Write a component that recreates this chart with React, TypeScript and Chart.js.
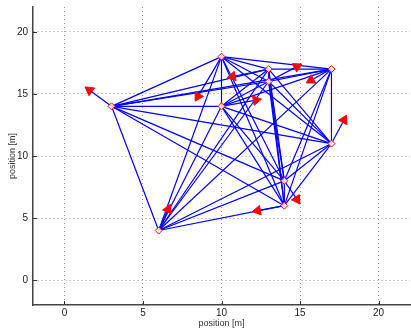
import React, { useEffect, useRef } from "react";
import { Chart, registerables } from "chart.js";

Chart.register(...registerables);

// Node positions [m]
const nodeX = [10, 13, 17, 3, 10, 13, 17, 14, 14, 6];
const nodeY = [18, 17, 17, 14, 14, 16, 11, 8, 6, 4];

// Velocity arrow tips [m]
const tipX = [8.5, 10.7, 15.7, 1.6, 12.2, 14.8, 17.8, 14.8, 12.3, 6.6];
const tipY = [14.8, 16.4, 16.1, 15.3, 14.5, 17.2, 12.9, 6.5, 5.6, 5.7];

// Links between nodes (index pairs)
const edges: [number, number][] = [
  [0, 1], [0, 2], [0, 3], [0, 4], [0, 5], [0, 6], [0, 7], [0, 8], [0, 9],
  [1, 2], [1, 3], [1, 4], [1, 5], [1, 6], [1, 7], [1, 8], [1, 9],
  [2, 3], [2, 4], [2, 5], [2, 6], [2, 7], [2, 8], [2, 9],
  [3, 4], [3, 5], [3, 6], [3, 7], [3, 8], [3, 9],
  [4, 5], [4, 6], [4, 7], [4, 8], [4, 9],
  [5, 6], [5, 7], [5, 8], [5, 9],
  [6, 7], [6, 8], [6, 9],
  [7, 8], [7, 9],
  [8, 9],
];

const xTicks = [0, 5, 10, 15, 20];
const yTicks = [0, 5, 10, 15, 20];
const xRange = [-2, 22];
const yRange = [-2, 22];

const BLUE = "rgb(0,0,255)";
const RED = "rgb(255,0,0)";
const FONT = "'Liberation Sans', Arial, Helvetica, sans-serif";

const innerTicks = {
  id: "innerTicks",
  afterDraw(chart: any) {
    const { ctx, chartArea, scales } = chart;
    ctx.save();
    ctx.strokeStyle = "#333";
    ctx.lineWidth = 1;
    ctx.beginPath();
    xTicks.forEach((v) => {
      const p = Math.round(scales.x.getPixelForValue(v)) + 0.5;
      ctx.moveTo(p, chartArea.bottom);
      ctx.lineTo(p, chartArea.bottom - 4);
    });
    yTicks.forEach((v) => {
      const p = Math.round(scales.y.getPixelForValue(v)) + 0.5;
      ctx.moveTo(chartArea.left, p);
      ctx.lineTo(chartArea.left + 4, p);
    });
    ctx.stroke();
    ctx.restore();
  },
};

export default function App() {
  const ref = useRef<HTMLCanvasElement | null>(null);

  useEffect(() => {
    if (!ref.current) return;

    const edgeSets = edges.map(([a, b]) => ({
      data: [
        { x: nodeX[a], y: nodeY[a] },
        { x: nodeX[b], y: nodeY[b] },
      ],
      showLine: true,
      borderColor: BLUE,
      borderWidth: 1.2,
      pointRadius: 0,
      order: 4,
    }));

    const velSets = nodeX.map((_, i) => ({
      data: [
        { x: nodeX[i], y: nodeY[i] },
        { x: tipX[i], y: tipY[i] },
      ],
      showLine: true,
      borderColor: BLUE,
      borderWidth: 1.2,
      pointRadius: 0,
      order: 3,
    }));

    const heads = {
      data: tipX.map((x, i) => ({ x, y: tipY[i] })),
      showLine: false,
      pointStyle: "triangle",
      pointRadius: 5.5,
      backgroundColor: RED,
      borderColor: RED,
      borderWidth: 1,
      rotation: (c: any) => {
        const i = c.dataIndex;
        const xs = c.chart.scales.x;
        const ys = c.chart.scales.y;
        if (!xs || !ys) return 0;
        const dx = xs.getPixelForValue(tipX[i]) - xs.getPixelForValue(nodeX[i]);
        const dy = ys.getPixelForValue(tipY[i]) - ys.getPixelForValue(nodeY[i]);
        return (Math.atan2(dx, -dy) * 180) / Math.PI;
      },
      order: 2,
    };

    const nodes = {
      data: nodeX.map((x, i) => ({ x, y: nodeY[i] })),
      showLine: false,
      pointStyle: "rectRot",
      pointRadius: 3.5,
      backgroundColor: "rgba(255,255,255,0.85)",
      borderColor: RED,
      borderWidth: 1,
      order: 1,
    };

    const chart = new Chart(ref.current, {
      type: "scatter",
      data: { datasets: [nodes, heads, ...velSets, ...edgeSets] as any },
      options: {
        animation: false,
        responsive: false,
        events: [],
        layout: { autoPadding: false, padding: { left: 0, right: 1, top: 7, bottom: 0 } },
        plugins: { legend: { display: false }, tooltip: { enabled: false } },
        scales: {
          x: {
            type: "linear",
            min: xRange[0],
            max: xRange[1],
            afterBuildTicks: (s: any) => {
              s.ticks = xTicks.map((v) => ({ value: v }));
            },
            afterFit: (s: any) => {
              s.height = 30;
              s.paddingLeft = 0;
              s.paddingRight = 0;
            },
            grid: { color: "#999", lineWidth: 1, drawTicks: false },
            border: { display: true, color: "#444", width: 1.5, dash: [1, 3] },
            ticks: {
              padding: 2,
              color: "#222",
              font: { family: FONT, size: 10 },
              maxRotation: 0,
            },
            title: {
              display: true,
              text: "position [m]",
              color: "#333",
              font: { family: FONT, size: 9 },
              padding: { top: 0, bottom: 6 },
            },
          },
          y: {
            type: "linear",
            min: yRange[0],
            max: yRange[1],
            afterBuildTicks: (s: any) => {
              s.ticks = yTicks.map((v) => ({ value: v }));
            },
            afterFit: (s: any) => {
              s.width = 33;
              s.paddingTop = 0;
              s.paddingBottom = 0;
            },
            grid: { color: "#999", lineWidth: 1, drawTicks: false },
            border: { display: true, color: "#444", width: 1.5, dash: [1, 3] },
            ticks: {
              padding: 5,
              color: "#222",
              font: { family: FONT, size: 10 },
            },
            title: {
              display: true,
              text: "position [m]",
              color: "#333",
              font: { family: FONT, size: 9 },
              padding: { top: 7, bottom: 0 },
            },
          },
        },
      },
      plugins: [innerTicks],
    });

    return () => chart.destroy();
  }, []);

  return (
    <div style={{ position: "absolute", left: 0, top: 0, width: 411, height: 335, background: "#fff" }}>
      <canvas ref={ref} width={411} height={335} style={{ display: "block" }} />
    </div>
  );
}
